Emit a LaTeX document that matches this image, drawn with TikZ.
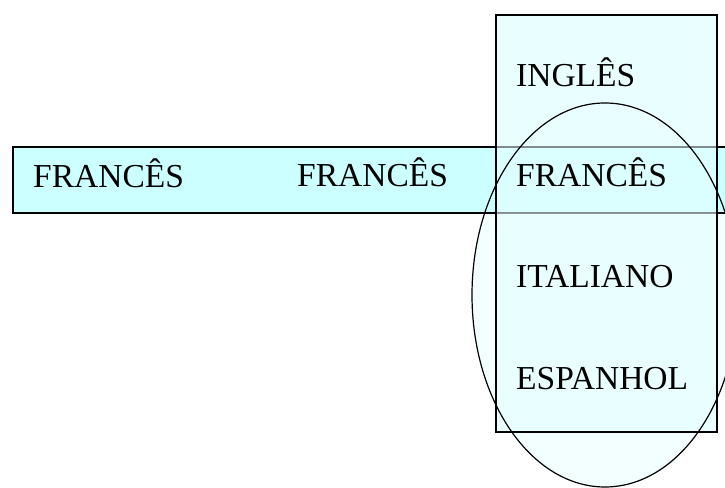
\documentclass[tikz,border=0pt]{standalone}
\usepackage{fontspec}
\setmainfont{Liberation Serif}
\begin{document}
\begin{tikzpicture}[x=1pt,y=1pt,
  lang/.style={anchor=base west,inner sep=0pt,font=\fontsize{33.5}{40}\selectfont},
  band/.style={draw=black,line width=1.3pt,fill=lightcyan},
  column/.style={draw=black,line width=1.2pt},
  group/.style={draw=black,line width=1.2pt}]
  \definecolor{lightcyan}{HTML}{CCFFFF}
  \definecolor{palecyan}{HTML}{E8FFFF}
  \clip (0,0) rectangle (725,487);
  % soft fill of the ellipse
  \fill[palecyan,opacity=0.5] (605,192) ellipse [x radius=133, y radius=192];
  % horizontal band of FRANCÊS entries
  \draw[band] (13,274) rectangle (740,340);
  % translucent column laid over the band
  \fill[palecyan,opacity=0.55] (496,55) rectangle (717,472);
  \fill[palecyan,opacity=0.9] (496,55) rectangle (717,273) (496,341) rectangle (717,472);
  % vertical column outline
  \draw[column] (496,55) rectangle (717,472);
  % ellipse grouping the lower languages
  \draw[group] (605,192) ellipse [x radius=133, y radius=192];
  % labels
  \node[lang] (fr1) at (33,299) {FRANCÊS};
  \node[lang] (fr2) at (297,300) {FRANCÊS};
  \node[lang] (fr3) at (516,300) {FRANCÊS};
  \node[lang] (en) at (516,400) {INGLÊS};
  \node[lang] (it) at (516,199) {ITALIANO};
  \node[lang] (es) at (516,97) {ESPANHOL};
\end{tikzpicture}
\end{document}
